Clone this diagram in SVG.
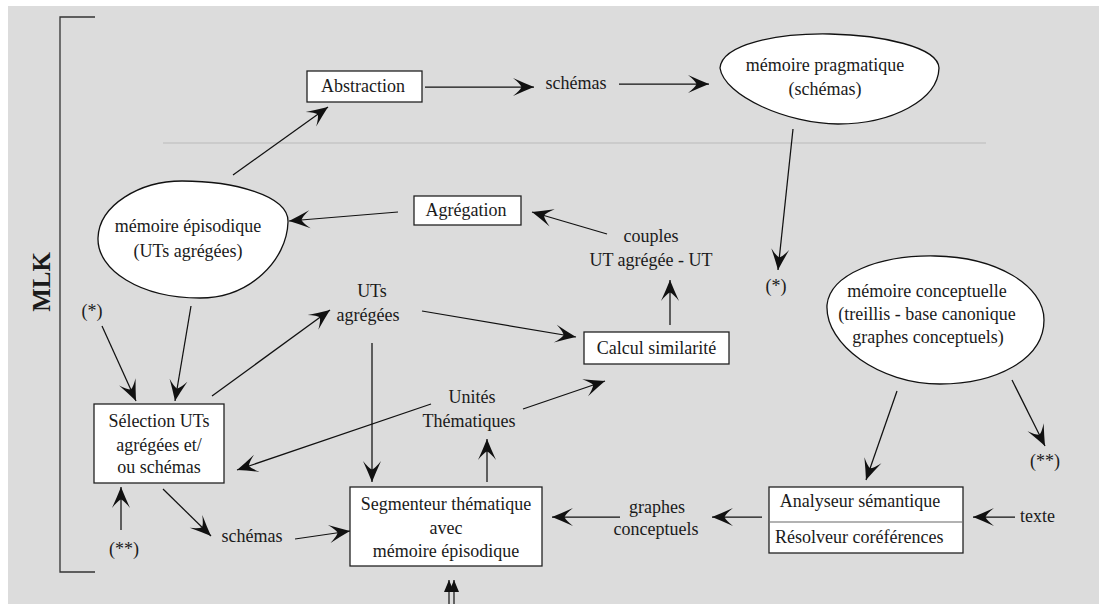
<svg xmlns="http://www.w3.org/2000/svg" width="1099" height="604" viewBox="0 0 1099 604">
  <defs>
    <!-- barbed arrowhead, tip at the line end -->
    <marker id="barb" viewBox="-24 -11 26 22" markerWidth="26" markerHeight="22" refX="0" refY="0" orient="auto" markerUnits="userSpaceOnUse">
      <path d="M0,0 Q-10,-4 -21,-9 Q-14,-3.5 -12.5,0 Q-14,3.5 -21,9 Q-10,4 0,0 Z" fill="#111"/>
    </marker>
    <marker id="tri" viewBox="-14 -7 15 14" markerWidth="15" markerHeight="14" refX="0" refY="0" orient="auto" markerUnits="userSpaceOnUse">
      <path d="M0,0 L-12,-5 L-12,5 Z" fill="#111"/>
    </marker>
  </defs>
  <style>
    text { font-family: "Liberation Serif", "Times New Roman", serif; font-size: 18px; fill: #1a1a1a; }
    .c { text-anchor: middle; }
    .box { fill: #ffffff; stroke: #222; stroke-width: 1.3; }
    .blob { fill: #ffffff; stroke: #111; stroke-width: 1.3; }
    .edge { fill: none; stroke: #111; stroke-width: 1.25; marker-end: url(#barb); }
    .pair { fill: none; stroke: #111; stroke-width: 1.2; marker-end: url(#tri); }
  </style>

  <!-- canvas -->
  <rect x="0" y="0" width="1099" height="604" fill="#ffffff"/>
  <rect x="8" y="6" width="1091" height="598" fill="#dcdcdc"/>

  <!-- MLK bracket and separator -->
  <g id="mlk">
    <path d="M95,17 H60 V572 H95" fill="none" stroke="#333" stroke-width="1.3"/>
    <text x="41" y="282" transform="rotate(-90 41 282)" class="c" style="font-size:25px;font-weight:bold" dy="9">MLK</text>
  </g>
  <line x1="163" y1="143" x2="986" y2="143" stroke="#c6c6c6" stroke-width="1.3"/>

  <!-- nodes -->
  <g id="abstraction">
    <rect class="box" x="307" y="71" width="115" height="31"/>
    <text class="c" x="363" y="92">Abstraction</text>
  </g>
  <g id="schemas-top">
    <text class="c" x="576" y="89">schémas</text>
  </g>
  <g id="memoire-pragmatique">
    <path class="blob" d="M720,68 C722,44 778,33 830,34 C882,35 938,47 939,68 C938,100 892,124 838,124 C788,124 724,96 720,68 Z"/>
    <text class="c" x="825" y="71">mémoire pragmatique</text>
    <text class="c" x="825" y="95">(schémas)</text>
  </g>
  <g id="etoile-1">
    <text class="c" x="776" y="292">(*)</text>
  </g>
  <g id="memoire-episodique">
    <path class="blob" d="M98,238 C99,205 140,181 182,181 C232,181 289,195 288,222 C287,260 250,298 200,298 C140,298 97,270 98,238 Z"/>
    <text class="c" x="188" y="232">mémoire épisodique</text>
    <text class="c" x="188" y="257">(UTs agrégées)</text>
  </g>
  <g id="agregation">
    <rect class="box" x="414" y="196" width="107" height="29"/>
    <text class="c" x="466" y="216">Agrégation</text>
  </g>
  <g id="couples">
    <text class="c" x="651" y="242">couples</text>
    <text class="c" x="651" y="266">UT agrégée - UT</text>
  </g>
  <g id="calcul-similarite">
    <rect class="box" x="584" y="332" width="145" height="32"/>
    <text class="c" x="656.5" y="354">Calcul similarité</text>
  </g>
  <g id="uts-agregees">
    <text class="c" x="372" y="297">UTs</text>
    <text class="c" x="368" y="321">agrégées</text>
  </g>
  <g id="unites-thematiques">
    <text class="c" x="472" y="403">Unités</text>
    <text class="c" x="469" y="427">Thématiques</text>
  </g>
  <g id="etoile-2">
    <text class="c" x="92" y="317">(*)</text>
  </g>
  <g id="selection">
    <rect class="box" x="94" y="404" width="130" height="79"/>
    <text class="c" x="159" y="427">Sélection UTs</text>
    <text class="c" x="159" y="451">agrégées et/</text>
    <text class="c" x="159" y="473">ou schémas</text>
  </g>
  <g id="etoiles-1">
    <text class="c" x="124" y="555">(**)</text>
  </g>
  <g id="schemas-bas">
    <text class="c" x="252" y="542">schémas</text>
  </g>
  <g id="segmenteur">
    <rect class="box" x="350" y="487" width="192" height="79"/>
    <text class="c" x="446" y="510">Segmenteur thématique</text>
    <text class="c" x="446" y="534">avec</text>
    <text class="c" x="446" y="557">mémoire épisodique</text>
  </g>
  <g id="graphes-conceptuels">
    <text class="c" x="657" y="513">graphes</text>
    <text class="c" x="656" y="535">conceptuels</text>
  </g>
  <g id="analyseur">
    <rect class="box" x="769" y="487" width="194" height="66"/>
    <line x1="770" y1="522" x2="962" y2="522" stroke="#999" stroke-width="1.3"/>
    <text class="c" x="860" y="507">Analyseur sémantique</text>
    <text x="775" y="543">Résolveur coréférences</text>
  </g>
  <g id="texte">
    <text x="1020" y="522">texte</text>
  </g>
  <g id="memoire-conceptuelle">
    <path class="blob" d="M827,305 C830,274 880,255 935,256 C996,257 1044,285 1044,320 C1044,360 995,384 940,384 C880,384 825,345 827,305 Z"/>
    <text class="c" x="927" y="297">mémoire conceptuelle</text>
    <text class="c" x="927" y="320">(treillis - base canonique</text>
    <text class="c" x="928" y="343">graphes conceptuels)</text>
  </g>
  <g id="etoiles-2">
    <text class="c" x="1045" y="467">(**)</text>
  </g>

  <!-- connectors -->
  <g id="connectors">
    <line class="edge" x1="233" y1="175" x2="328" y2="107"/>
    <line class="edge" x1="425" y1="87" x2="534" y2="87"/>
    <line class="edge" x1="619" y1="84" x2="709" y2="84"/>
    <line class="edge" x1="793" y1="129" x2="778" y2="270"/>
    <line class="edge" x1="398" y1="212" x2="289" y2="221"/>
    <line class="edge" x1="607" y1="234" x2="532" y2="212"/>
    <line class="edge" x1="670" y1="325" x2="670" y2="280"/>
    <line class="edge" x1="212" y1="396" x2="330" y2="310"/>
    <line class="edge" x1="422" y1="311" x2="576" y2="337"/>
    <line class="edge" x1="372" y1="343" x2="372" y2="482"/>
    <line class="edge" x1="431" y1="404" x2="237" y2="470"/>
    <line class="edge" x1="523" y1="409" x2="605" y2="381"/>
    <line class="edge" x1="487" y1="482" x2="487" y2="439"/>
    <line class="edge" x1="102" y1="326" x2="136" y2="401"/>
    <line class="edge" x1="191" y1="306" x2="175" y2="401"/>
    <line class="edge" x1="121" y1="530" x2="121" y2="487"/>
    <line class="edge" x1="163" y1="489" x2="211" y2="536"/>
    <line class="edge" x1="295" y1="539" x2="350" y2="531"/>
    <line class="edge" x1="762" y1="517" x2="712" y2="517"/>
    <line class="edge" x1="620" y1="517" x2="552" y2="517"/>
    <line class="edge" x1="1015" y1="517" x2="973" y2="517"/>
    <line class="edge" x1="897" y1="391" x2="866" y2="480"/>
    <line class="edge" x1="1012" y1="380" x2="1045" y2="446"/>
    <line class="pair" x1="449" y1="604" x2="449" y2="580"/>
    <line class="pair" x1="454" y1="604" x2="454" y2="580"/>
  </g>
</svg>
